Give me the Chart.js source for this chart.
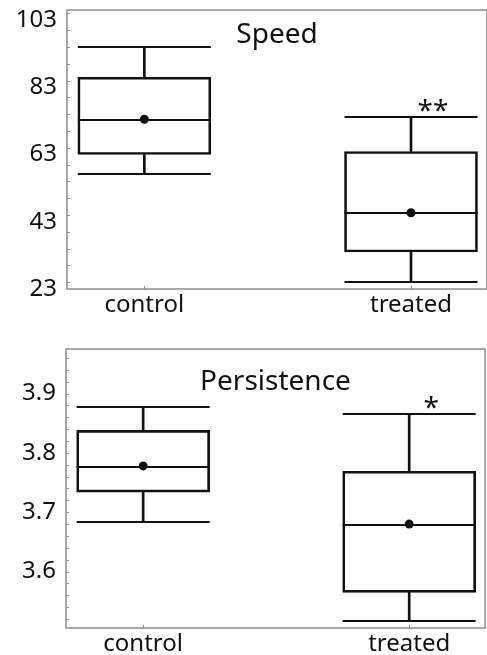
<!DOCTYPE html>
<html>
<head>
<meta charset="utf-8">
<script src="https://cdn.jsdelivr.net/npm/chart.js@4.4.1/dist/chart.umd.min.js"></script>
<style>
  html, body { margin: 0; padding: 0; background: #fff; }
  #wrap { position: relative; width: 487px; height: 655px; }
  .panel { position: absolute; left: 0; width: 487px; }
</style>
</head>
<body>
<div id="wrap">
  <div class="panel" style="top:0;height:320px"><canvas id="speedChart"></canvas></div>
  <div class="panel" style="top:320px;height:335px"><canvas id="persistChart"></canvas></div>
</div>
<script>
// groups along x
const groups = ['control', 'treated'];
const groupPos = [1, 2];

// Speed panel
const speedMin = [57.2, 25.1];
const speedQ1 = [63.0, 34.0];
const speedMedian = [73.4, 45.6];
const speedMean = [73.5, 45.7];
const speedQ3 = [86.0, 63.9];
const speedMax = [95.1, 74.1];
const speedTicks = [23, 43, 63, 83, 103];
const speedMarks = ['', '**'];

// Persistence panel
const persistMin = [3.684, 3.517];
const persistQ1 = [3.734, 3.565];
const persistMedian = [3.777, 3.679];
const persistMean = [3.778, 3.680];
const persistQ3 = [3.838, 3.769];
const persistMax = [3.877, 3.866];
const persistTicks = [3.6, 3.7, 3.8, 3.9];
const persistMarks = ['', '*'];

const FONT = '"Noto Sans", "Open Sans", sans-serif';
const INK = '#111';
const FRAME = '#8c8c8c';

const boxDecor = {
  id: 'boxDecor',
  afterDatasetsDraw(chart, args, opts) {
    const { ctx, chartArea: area, scales: { x, y } } = chart;
    const boxIndex = chart.data.datasets.findIndex((d) => d.isBox);
    const boxes = chart.getDatasetMeta(boxIndex).data;

    ctx.save();
    ctx.strokeStyle = INK;
    ctx.lineWidth = 2;
    boxes.forEach((el, i) => {
      const half = el.width / 2;
      [opts.maxs[i], opts.mins[i], opts.medians[i]].forEach((v) => {
        const py = Math.round(y.getPixelForValue(v));
        ctx.beginPath();
        ctx.moveTo(el.x - half, py);
        ctx.lineTo(el.x + half, py);
        ctx.stroke();
      });
      if (opts.marks[i]) {
        ctx.fillStyle = INK;
        ctx.font = `28px ${FONT}`;
        ctx.textAlign = 'center';
        ctx.textBaseline = 'alphabetic';
        ctx.fillText(opts.marks[i], el.x + 22, y.getPixelForValue(opts.maxs[i]) + 3);
      }
    });

    // title inside the frame
    ctx.fillStyle = INK;
    ctx.font = `28px ${FONT}`;
    ctx.textAlign = 'center';
    ctx.textBaseline = 'alphabetic';
    ctx.fillText(opts.title, (area.left + area.right) / 2, area.top + opts.titleOffset);

    // frame
    ctx.strokeStyle = FRAME;
    ctx.lineWidth = 1.5;
    ctx.strokeRect(area.left, area.top, area.right - area.left, area.bottom - area.top);

    // inward ticks on the left edge
    ctx.lineWidth = 1;
    const first = Math.ceil(y.min / opts.minorStep - 1e-6);
    const last = Math.floor(y.max / opts.minorStep + 1e-6);
    for (let k = first; k <= last; k++) {
      const py = Math.round(y.getPixelForValue(k * opts.minorStep)) + 0.5;
      ctx.beginPath();
      ctx.moveTo(area.left, py);
      ctx.lineTo(area.left + 3, py);
      ctx.stroke();
    }
    // inward ticks on the bottom edge
    groupPos.forEach((v) => {
      const px = Math.round(x.getPixelForValue(v)) + 0.5;
      ctx.beginPath();
      ctx.moveTo(px, area.bottom);
      ctx.lineTo(px, area.bottom - 3);
      ctx.stroke();
    });
    ctx.restore();
  }
};

function boxChart(id, s) {
  return new Chart(document.getElementById(id), {
    type: 'bar',
    data: {
      datasets: [
        {
          type: 'bar',
          data: groupPos.map((gx, i) => ({ x: gx, y: [s.q3[i], s.max[i]] })),
          backgroundColor: INK,
          barThickness: 2,
          grouped: false
        },
        {
          type: 'bar',
          data: groupPos.map((gx, i) => ({ x: gx, y: [s.min[i], s.q1[i]] })),
          backgroundColor: INK,
          barThickness: 2,
          grouped: false
        },
        {
          type: 'bar',
          isBox: true,
          data: groupPos.map((gx, i) => ({ x: gx, y: [s.q1[i], s.q3[i]] })),
          backgroundColor: 'rgba(255,255,255,0)',
          borderColor: INK,
          borderWidth: 2,
          borderSkipped: false,
          barThickness: 133,
          grouped: false
        },
        {
          type: 'line',
          data: groupPos.map((gx, i) => ({ x: gx, y: s.mean[i] })),
          showLine: false,
          pointRadius: 4.5,
          pointBackgroundColor: INK,
          pointBorderWidth: 0
        }
      ]
    },
    options: {
      responsive: true,
      maintainAspectRatio: false,
      animation: false,
      layout: { padding: s.padding, autoPadding: false },
      plugins: {
        legend: { display: false },
        tooltip: { enabled: false },
        boxDecor: {
          mins: s.min, maxs: s.max, medians: s.median, marks: s.marks,
          title: s.title, titleOffset: s.titleOffset, minorStep: s.minorStep
        }
      },
      scales: {
        x: {
          type: 'linear',
          min: 0.71,
          max: 2.285,
          offset: false,
          afterBuildTicks: (axis) => { axis.ticks = groupPos.map((v) => ({ value: v })); },
          afterFit: (axis) => {
            axis.height = s.xHeight;
            axis.paddingLeft = 0;
            axis.paddingRight = 0;
          },
          ticks: {
            callback: (v) => groups[groupPos.indexOf(v)],
            font: { family: FONT, size: 24 },
            color: INK,
            padding: 2,
            maxRotation: 0
          },
          grid: { display: false, drawTicks: false },
          border: { display: false }
        },
        y: {
          min: s.yMin,
          max: s.yMax,
          beginAtZero: false,
          afterBuildTicks: (axis) => { axis.ticks = s.ticks.map((v) => ({ value: v })); },
          afterFit: (axis) => {
            axis.width = s.yWidth;
            axis.paddingTop = 0;
            axis.paddingBottom = 0;
          },
          ticks: {
            callback: s.tickFormat,
            font: { family: FONT, size: 24 },
            color: INK,
            padding: 10
          },
          grid: { display: false, drawTicks: false },
          border: { display: false }
        }
      }
    },
    plugins: [boxDecor]
  });
}

boxChart('speedChart', {
  min: speedMin, q1: speedQ1, median: speedMedian, mean: speedMean, q3: speedQ3, max: speedMax,
  ticks: speedTicks, marks: speedMarks, title: 'Speed',
  yMin: 23, yMax: 106, minorStep: 5, tickFormat: (v) => String(v),
  padding: { top: 10, right: 0, left: 0, bottom: 0 },
  yWidth: 67, xHeight: 31, titleOffset: 33
});

boxChart('persistChart', {
  min: persistMin, q1: persistQ1, median: persistMedian, mean: persistMean, q3: persistQ3, max: persistMax,
  ticks: persistTicks, marks: persistMarks, title: 'Persistence',
  yMin: 3.505, yMax: 3.975, minorStep: 0.02, tickFormat: (v) => v.toFixed(1),
  padding: { top: 29, right: 2, left: 0, bottom: 0 },
  yWidth: 66, xHeight: 27, titleOffset: 41
});
</script>
</body>
</html>
